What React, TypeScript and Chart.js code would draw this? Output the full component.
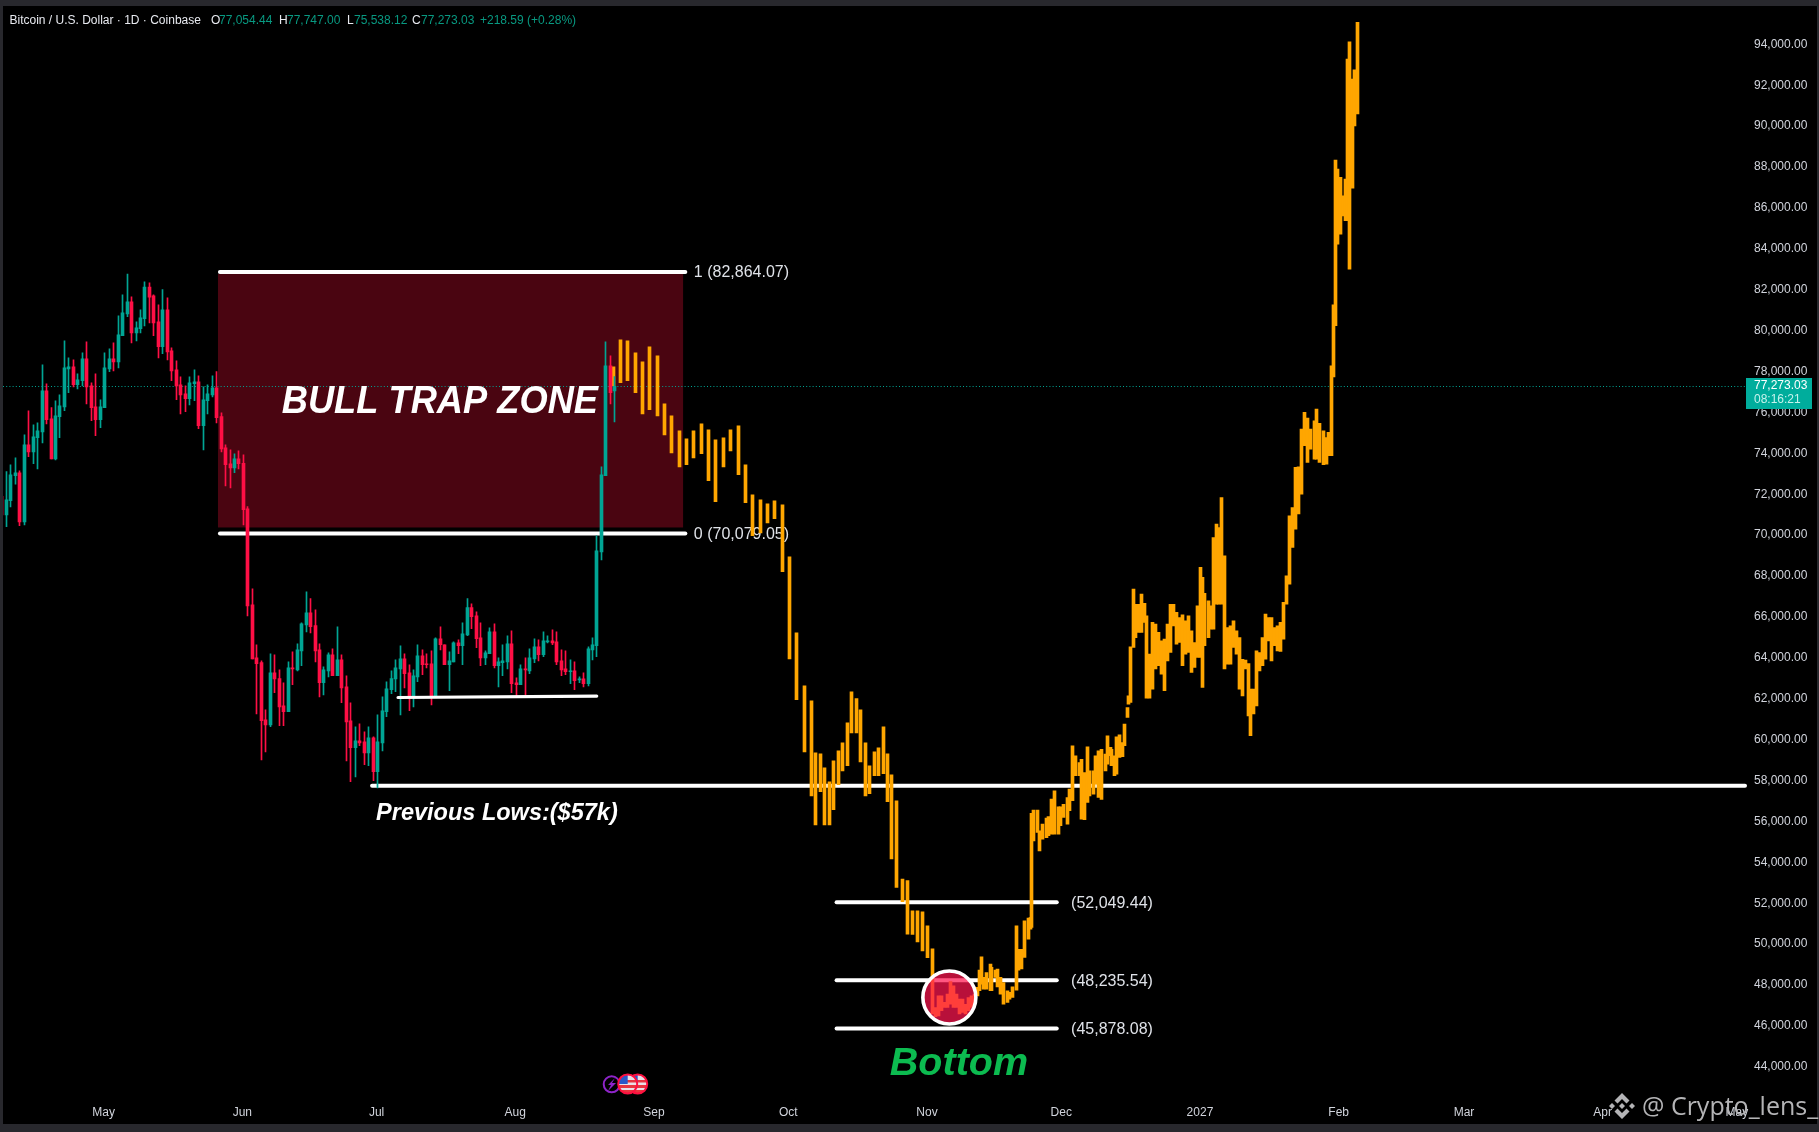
import React, { useEffect, useRef } from "react";
import { Chart, registerables } from "chart.js";

Chart.register(...registerables);

const candleOpen = [71890,70990,71680,72900,73050,70650,74420,74070,74760,75050,77060,75690,73730,75790,76270,78130,78230,77350,77550,78620,77300,76270,75640,76230,78130,78620,78470,79750,80820,81410,79890,80090,80580,82130,81700,80430,79210,81020,79010,78080,77350,76910,76670,77400,77500,75350,76570,76860,77200,75790,74270,73490,73290,73730,73510,71290,66590,64000,63760,60970,60720,63270,62980,61650,61360,63510,63410,64340,65610,66200,65570,64390,62780,63360,64150,63120,63900,62580,60920,59600,59940,59890,59350,60090,58430,59840,61360,62440,62970,63460,63950,63270,62090,63070,64100,63710,63710,62130,64930,64640,63660,63800,64730,64590,65120,66450,66050,64980,64000,64200,65270,63610,63760,63800,64680,62780,62680,63460,63360,63950,64540,64150,64780,64830,64780,63850,63460,63320,63360,62920,62970,62730,64390,64590,69180,72900,78280,77054];
const candleHigh = [71890,73100,73440,73780,73140,74900,76080,75390,75490,78330,77400,76230,76570,76860,79500,78670,78570,77890,78910,79450,77450,77890,76620,78910,79110,79400,80720,81750,82760,81650,80430,81020,82390,82340,81750,81260,82010,81600,79160,78520,77740,77300,77740,78080,77790,77250,77350,77790,77990,75980,74420,74170,73980,74120,73930,71400,67370,64640,63850,61460,64200,64150,63410,62780,63800,64290,64680,65710,67230,66890,66350,64680,63560,64240,64440,65520,64150,63120,61800,60630,60770,60380,60630,60140,61210,62090,62830,63360,63900,64590,64200,63660,63410,64640,64390,64200,64340,64980,65520,64640,64290,64780,64880,65710,66890,66640,66250,65710,64340,65470,65660,64000,64640,65080,65320,63020,63660,64000,64440,64930,64880,65270,65080,65370,65270,64390,64340,63900,63800,63070,63270,64540,64980,69970,73340,79450,78770,77747];
const candleLow = [70990,70410,71380,72490,70460,70500,73830,73490,73240,74510,75440,73730,73680,74760,76080,76960,77250,77150,77300,76420,75590,74860,75250,76230,77990,78030,78180,79750,80680,79400,79500,79890,80230,80380,79750,78670,78870,78570,77550,76620,75930,76030,76370,76570,75200,74170,75930,76760,75490,74070,72410,72310,73050,73240,70500,66050,63950,61260,59010,59400,60630,62290,60680,60680,61360,62680,63360,63610,65270,65220,63800,62090,62190,63070,63120,63120,61800,58960,57940,58180,59700,58770,58720,57990,57640,59450,61120,62240,62340,61210,62530,61410,61600,62830,63170,63510,61700,62130,64390,63660,62390,63800,64200,63660,65080,65420,64490,63610,63660,64200,63510,62580,63120,63460,62290,62140,62680,62130,63220,63760,63850,64050,64730,64640,63660,63120,63170,62730,62440,62780,62580,62630,63900,64050,68790,72900,76420,75538];
const candleClose = [70990,71730,72950,73050,70650,74420,74070,74810,75100,77060,75640,73730,75830,76320,78180,78230,77350,77590,78620,77250,76230,75640,76270,78180,78620,78470,79790,80870,81410,79890,80140,80630,82130,81640,80380,79210,81020,78960,78030,77300,76860,76670,77450,77500,75350,76620,76910,77200,75740,74220,73440,73290,73730,73490,71240,66540,63950,63710,60920,60720,63270,62970,61600,61360,63510,63460,64390,65660,66200,65520,64340,62780,63410,64150,63120,63900,62530,60870,59600,59940,59840,59350,60090,58430,59890,61410,62480,62980,63510,63950,63220,62090,63120,64100,63660,63660,62090,64930,64640,63660,63850,64730,64590,65170,66450,66010,64930,64000,64240,65270,63610,63800,63850,64680,62730,62680,63460,63410,64000,64540,64150,64830,64830,64730,63800,63410,63320,63360,62880,62970,62730,64440,64640,69230,72950,78280,76960,77273.03];

const orangeDay = [113.9,115.5,117,118.8,120.4,122,123.7,125.3,126.9,128.7,130.2,131.8,133.6,135.1,136.7,138.5,140.1,141.8,143.4,145,146.7,148.3,149.9,151.7,153.2,154.8,156.6,158.1,159,160.2,161.1,162.2,163.1,164.2,165.1,166.2,167.1,168.2,169.1,170.2,171.1,172.2,173.1,174.2,175.1,176,177.2,178.5,179.6,180.7,181.8,182.9,184.1,185.2,185.8,186.5,187.2,187.9,188.5,189.2,189.9,190.5,191.2,191.9,192.5,193.2,193.9,194.6,195.2,195.7,196.2,196.7,197.4,198.1,198.5,199.2,199.8,200.5,201.2,201.9,202.5,203.2,203.9,204.5,205.2,205.9,206.6,207.2,207.4,207.9,208.6,209.2,209.9,210.6,211.2,211.9,212.6,213.3,213.9,214.6,215.3,215.9,216.6,217.3,218,218.6,219.3,219.8,220.4,221.1,221.7,222.4,223.1,223.8,224.3,225,225.3,225.8,226.4,227,227.6,228.2,228.7,229.1,229.5,230.1,230.7,231.3,231.9,232.5,233.1,233.7,234.3,235,235.7,236.4,237,237.7,238.4,239,239.7,240.4,241,241.7,242.4,243.1,243.7,244.4,245.1,245.5,246.1,246.8,247.4,248.1,248.6,249.2,249.8,250.4,251.1,251.8,252.4,253.1,253.8,254.5,255.1,255.8,256.3,257,257.7,258.3,259,259.7,260.3,261,261.7,262.3,263,263.7,264.4,265,265.7,266.4,267,267.7,268.4,269,269.8,270.5,271.1,271.8,272.5,273.2,273.8,274.4,274.9,275.2,275.8,276.4,277,277.6,278,278.5,279,279.5,280.2];
const orangeHigh = [78230,79550,79500,78910,78470,79210,78770,76420,75830,75100,74710,75100,75440,75150,74660,74760,75150,75340,73440,71970,71730,71530,71680,71480,68940,65220,62630,61900,59350,59300,58620,57940,58960,59450,59840,60820,62340,62000,61460,59840,58720,59400,59600,60630,59300,58280,57010,53180,53100,51630,51630,51580,50890,49770,46900,47470,47470,47150,47550,48170,47960,47550,47310,47310,47060,47390,47470,47550,47880,48730,49380,48370,48610,49020,48860,48730,48780,48370,48120,47720,47640,47910,50890,49750,49750,51140,51270,51300,56390,56550,56550,55540,55870,56160,56230,57090,57500,56710,56710,56840,57170,57580,59700,59210,58880,59040,58390,59650,58470,58470,59210,59450,59530,59290,60190,59620,59530,59210,60140,60230,59860,60760,61570,62140,64540,67360,66620,66620,67110,66660,66050,64180,65730,65650,65240,64830,64910,65650,66620,66620,66220,65970,66100,65810,66050,65320,64750,66540,68420,67930,67150,66790,66540,69880,70540,70370,71840,68990,65480,65560,65810,65320,64990,63930,63890,63720,62470,62470,64340,64260,64990,66140,65970,65970,65480,65560,65730,66710,68010,70940,71350,73310,73340,75180,76000,75720,75180,75590,76160,75460,75100,74770,75020,78280,81260,88340,87900,87490,86590,87410,93280,94120,92300,92750,95070];
const orangeLow = [77300,77450,77550,76960,75930,76130,75830,74900,74020,73340,73440,73780,73980,72660,71630,73340,74120,72950,71580,69970,70110,70600,70800,68210,63950,61950,59400,57250,55830,57450,55830,55830,56570,57790,58470,58720,60330,60330,58910,57250,57350,58230,58230,58330,56960,54170,52770,52070,50490,50470,50110,49670,49330,46580,46450,46490,46740,46900,46900,47060,46900,46900,46580,46660,46580,46740,46900,47060,47470,47720,48040,47800,47800,47720,47720,48370,47910,47550,47060,47150,47310,47390,47750,48730,48780,49350,50240,50730,50810,55050,55460,54560,55130,55210,55300,55380,55380,55380,55790,56190,55870,56520,57010,58230,58230,56110,56080,56930,57250,57330,57820,57170,57070,58470,58800,59210,58720,58230,58310,59130,59160,59700,61080,61730,61820,64510,64990,65240,65240,65730,62030,62030,62470,63450,63610,63200,62390,63850,64260,65560,64670,64750,63610,64180,64260,63280,63530,64020,64020,62550,64590,64990,65400,65400,66620,66620,66620,63450,63690,63690,64510,64180,62470,62140,63450,61160,60190,61250,61650,63360,63610,63930,64830,63850,64590,64340,64310,64910,66620,67600,69400,70290,71030,72000,74370,73550,74200,73710,73710,73550,73440,73470,73880,73880,77740,80240,84230,84720,85610,85370,85370,83010,86970,90010,90590];

const monthDays = [0,31,61,92,123,153,184,214,245,276,304,335,365];
const monthLabels = ["May","Jun","Jul","Aug","Sep","Oct","Nov","Dec","2027","Feb","Mar","Apr","May"];
const priceTicks = [44000,46000,48000,50000,52000,54000,56000,58000,60000,62000,64000,66000,68000,70000,72000,74000,76000,78000,80000,82000,84000,86000,88000,90000,92000,94000];

const zoneHigh = 82864.07;
const zoneLow = 70079.05;
const previousLow = 57740;
const rangeLowStart = 62058;
const rangeLowEnd = 62126;
const bottomLevels = [52049.44, 48235.54, 45878.08];
const bottomLabels = ["(52,049.44)", "(48,235.54)", "(45,878.08)"];
const lastPrice = 77273.03;
const firstCandleDay = -22.75;

const TEAL = "#00a594";
const RED = "#ff0f45";
const ORANGE = "#ffa600";
const AXIS_TEXT = "#d1d4dc";
const UI_FONT = '"Liberation Sans", Arial, sans-serif';

const W = 1819;
const H = 1132;

export default function App() {
  const ref = useRef<HTMLCanvasElement>(null);

  useEffect(() => {
    const canvas = ref.current!;
    const up = candleOpen.map((o, i) => candleClose[i] >= o);
    const cDay = candleOpen.map((_, i) => firstCandleDay + i);

    const frame = {
      id: "frame",
      beforeDraw(c: any) {
        const g = c.ctx;
        g.save();
        g.fillStyle = "#28282d";
        g.fillRect(0, 0, W, H);
        g.fillStyle = "#000";
        g.fillRect(3, 6, 1814, 1118);
        g.restore();
      },
    };

    // Crisp bars: snap every bar's centre to a whole pixel, as the trading terminal does.
    const snap = {
      id: "snap",
      beforeDatasetsDraw(c: any) {
        c.getSortedVisibleDatasetMetas().forEach((m: any) => {
          m.data.forEach((el: any) => {
            el.x = Math.floor(el.x) + 0.5;
          });
        });
      },
    };

    const under = {
      id: "under",
      beforeDatasetsDraw(c: any) {
        const g = c.ctx;
        const X = (d: number) => c.scales.x.getPixelForValue(d);
        const Y = (v: number) => c.scales.y.getPixelForValue(v);
        g.save();
        // zone
        g.fillStyle = "#4a0511";
        g.fillRect(X(25.56), Y(zoneHigh) + 2, X(129.5) - X(25.56), Y(zoneLow) - 6 - Y(zoneHigh) - 2);
        // last price dotted
        g.strokeStyle = TEAL;
        g.lineWidth = 1;
        g.setLineDash([1, 2.2]);
        g.beginPath();
        g.moveTo(3, Math.round(Y(lastPrice)) + 0.5);
        g.lineTo(1745, Math.round(Y(lastPrice)) + 0.5);
        g.stroke();
        g.setLineDash([]);
        // text
        g.fillStyle = "#fff";
        g.textBaseline = "alphabetic";
        g.save();
        g.translate(X(39.8), Y(75956));
        g.scale(0.93, 1);
        g.font = `italic bold 39px ${UI_FONT}`;
        g.fillText("BULL TRAP ZONE", 0, 0);
        g.restore();
        g.font = `italic bold 23.5px ${UI_FONT}`;
        g.fillText("Previous Lows:($57k)", X(60.9), Y(56054));
        g.fillStyle = "#0cbb50";
        g.font = `italic bold 39.5px ${UI_FONT}`;
        g.fillText("Bottom", X(175.7), Y(43603));
        // lines
        g.strokeStyle = "#fff";
        g.lineCap = "round";
        g.lineWidth = 4;
        const hline = (a: number, b: number, v: number, v2 = v) => {
          g.beginPath();
          g.moveTo(X(a), Y(v));
          g.lineTo(X(b), Y(v2));
          g.stroke();
        };
        hline(26, 130, zoneHigh);
        hline(26, 130, zoneLow);
        hline(60, 366.8, previousLow);
        bottomLevels.forEach((v) => hline(163.8, 213, v));
        // level labels
        g.fillStyle = "#dfe2e8";
        g.textBaseline = "middle";
        g.font = `16px ${UI_FONT}`;
        g.fillText("1 (82,864.07)", X(131.9), Y(zoneHigh) + 1);
        g.fillText("0 (70,079.05)", X(131.9), Y(zoneLow) + 1);
        bottomLevels.forEach((v, i) => g.fillText(bottomLabels[i], X(216.2), Y(v) + 1));
        g.restore();
      },
      afterDatasetsDraw(c: any) {
        const g = c.ctx;
        const X = (d: number) => c.scales.x.getPixelForValue(d);
        const Y = (v: number) => c.scales.y.getPixelForValue(v);
        g.save();
        // range low line
        g.strokeStyle = "#fff";
        g.lineWidth = 3.2;
        g.lineCap = "round";
        g.beginPath();
        g.moveTo(X(65.8), Y(rangeLowStart));
        g.lineTo(X(110.2), Y(rangeLowEnd));
        g.stroke();
        // circle
        g.beginPath();
        g.arc(X(189), Y(47388), 26.5, 0, Math.PI * 2);
        g.fillStyle = "rgba(255,22,80,0.72)";
        g.fill();
        g.strokeStyle = "#fff";
        g.lineWidth = 3.6;
        g.stroke();
        g.restore();
      },
      afterDraw(c: any) {
        const g = c.ctx;
        g.save();
        // header
        g.textBaseline = "middle";
        g.font = `12px ${UI_FONT}`;
        const put = (s: string, x: number, col: string) => {
          g.fillStyle = col;
          g.fillText(s, x, 21);
        };
        const HW = "#e8eaf0";
        const HT = "#089981";
        put("Bitcoin / U.S. Dollar · 1D · Coinbase", 9.5, HW);
        put("O", 211, HW); put("77,054.44", 219, HT);
        put("H", 279, HW); put("77,747.00", 287, HT);
        put("L", 347, HW); put("75,538.12", 354, HT);
        put("C", 412, HW); put("77,273.03", 421, HT);
        put("+218.59 (+0.28%)", 480, HT);
        // price tag
        g.fillStyle = "#00ad9c";
        g.fillRect(1746, 378, 66, 31);
        g.fillStyle = "#fff";
        g.fillText("77,273.03", 1754, 386);
        g.fillStyle = "#c5f2ec";
        g.fillText("08:16:21", 1754, 400);
        // event icons
        g.lineWidth = 2;
        g.strokeStyle = "#8e24c9";
        g.beginPath(); g.arc(611.7, 1084.3, 8, 0, Math.PI * 2); g.stroke();
        g.fillStyle = "#8e24c9";
        g.beginPath();
        g.moveTo(615, 1078); g.lineTo(608, 1085); g.lineTo(611, 1085); g.lineTo(608, 1091); g.lineTo(616, 1083); g.lineTo(612, 1083);
        g.closePath(); g.fill();
        const flag = (cx: number, cy: number) => {
          g.beginPath(); g.arc(cx, cy, 9.5, 0, Math.PI * 2);
          g.fillStyle = "#e9dfe6"; g.fill();
          g.save(); g.clip();
          g.fillStyle = "#e8363f";
          g.fillRect(cx - 10, cy - 4, 20, 2.5);
          g.fillRect(cx - 10, cy + 1, 20, 3);
          g.fillRect(cx - 10, cy + 6, 20, 3);
          g.fillStyle = "#2a58c8";
          g.fillRect(cx - 10, cy - 10, 10, 10);
          g.restore();
          g.strokeStyle = "#ff1040"; g.lineWidth = 2;
          g.beginPath(); g.arc(cx, cy, 9.5, 0, Math.PI * 2); g.stroke();
        };
        flag(637.7, 1084);
        flag(627.7, 1084);
        // watermark
        const diamond = (cx: number, cy: number, r: number) => {
          g.beginPath();
          g.moveTo(cx, cy - r); g.lineTo(cx + r, cy); g.lineTo(cx, cy + r); g.lineTo(cx - r, cy);
          g.closePath(); g.fill();
        };
        g.fillStyle = "#b4b4b6";
        const bx = 1622, by = 1106;
        diamond(bx, by, 3);
        diamond(bx - 10, by, 3);
        diamond(bx + 10, by, 3);
        g.beginPath();
        g.moveTo(bx, by - 13); g.lineTo(bx + 7.5, by - 5.5); g.lineTo(bx + 4.5, by - 2.5); g.lineTo(bx, by - 7);
        g.lineTo(bx - 4.5, by - 2.5); g.lineTo(bx - 7.5, by - 5.5); g.closePath(); g.fill();
        g.beginPath();
        g.moveTo(bx, by + 13); g.lineTo(bx + 7.5, by + 5.5); g.lineTo(bx + 4.5, by + 2.5); g.lineTo(bx, by + 7);
        g.lineTo(bx - 4.5, by + 2.5); g.lineTo(bx - 7.5, by + 5.5); g.closePath(); g.fill();
        g.textBaseline = "alphabetic";
        g.font = `25px "Open Sans", sans-serif`;
        g.fillText("@ Crypto_lens_", 1642, 1115);
        g.restore();
      },
    };

    const chart = new Chart(canvas, {
      type: "bar",
      data: {
        datasets: [
          {
            label: "Candle bodies",
            data: cDay.map((d, i) => ({ x: d, y: [Math.min(candleOpen[i], candleClose[i]), Math.max(candleOpen[i], candleClose[i])] })),
            backgroundColor: up.map((u) => (u ? TEAL : RED)),
            barThickness: 3,
            grouped: false,
            borderWidth: 0,
          },
          {
            label: "Candle wicks",
            data: cDay.map((d, i) => ({ x: d, y: [candleLow[i], candleHigh[i]] })),
            backgroundColor: up.map((u) => (u ? TEAL : RED)),
            barThickness: 1,
            grouped: false,
            borderWidth: 0,
          },
          {
            label: "Projection",
            data: orangeDay.map((d, i) => ({ x: d, y: [orangeLow[i], orangeHigh[i]] })),
            backgroundColor: ORANGE,
            barThickness: 3,
            grouped: false,
            borderWidth: 0,
          },
        ],
      } as any,
      options: {
        animation: false,
        responsive: false,
        devicePixelRatio: 1,
        layout: { padding: { left: 3, top: 7.8, right: 0, bottom: 0 } },
        plugins: { legend: { display: false }, tooltip: { enabled: false }, title: { display: false } },
        scales: {
          x: {
            type: "linear",
            offset: false,
            min: -22.48,
            max: 366.8,
            grid: { display: false, drawTicks: false },
            border: { display: false },
            afterBuildTicks: (s: any) => {
              s.ticks = monthDays.map((value) => ({ value }));
            },
            afterFit: (s: any) => {
              s.height = 31.2;
              s.paddingLeft = 0;
              s.paddingRight = 0;
            },
            ticks: {
              autoSkip: false,
              maxRotation: 0,
              minRotation: 0,
              padding: 4.5,
              color: AXIS_TEXT,
              font: { family: UI_FONT, size: 12 },
              callback: (v: any) => {
                const i = monthDays.indexOf(Number(v));
                return i >= 0 ? monthLabels[i] : "";
              },
            },
          },
          y: {
            type: "linear",
            position: "right",
            min: 42337,
            max: 95785,
            grid: { display: false, drawTicks: false },
            border: { display: false },
            afterBuildTicks: (s: any) => {
              s.ticks = priceTicks.map((value) => ({ value }));
            },
            afterFit: (s: any) => {
              s.width = 74;
              s.paddingTop = 0;
              s.paddingBottom = 0;
            },
            ticks: {
              autoSkip: false,
              padding: 9,
              crossAlign: "near",
              color: AXIS_TEXT,
              font: { family: UI_FONT, size: 12 },
              callback: (v: any) =>
                Number(v).toLocaleString("en-US", { minimumFractionDigits: 2, maximumFractionDigits: 2 }),
            },
          },
        },
      } as any,
      plugins: [frame, snap, under],
    });
    return () => chart.destroy();
  }, []);

  return (
    <canvas
      ref={ref}
      width={W}
      height={H}
      style={{ position: "fixed", left: 0, top: 0, width: W, height: H, display: "block" }}
    />
  );
}
